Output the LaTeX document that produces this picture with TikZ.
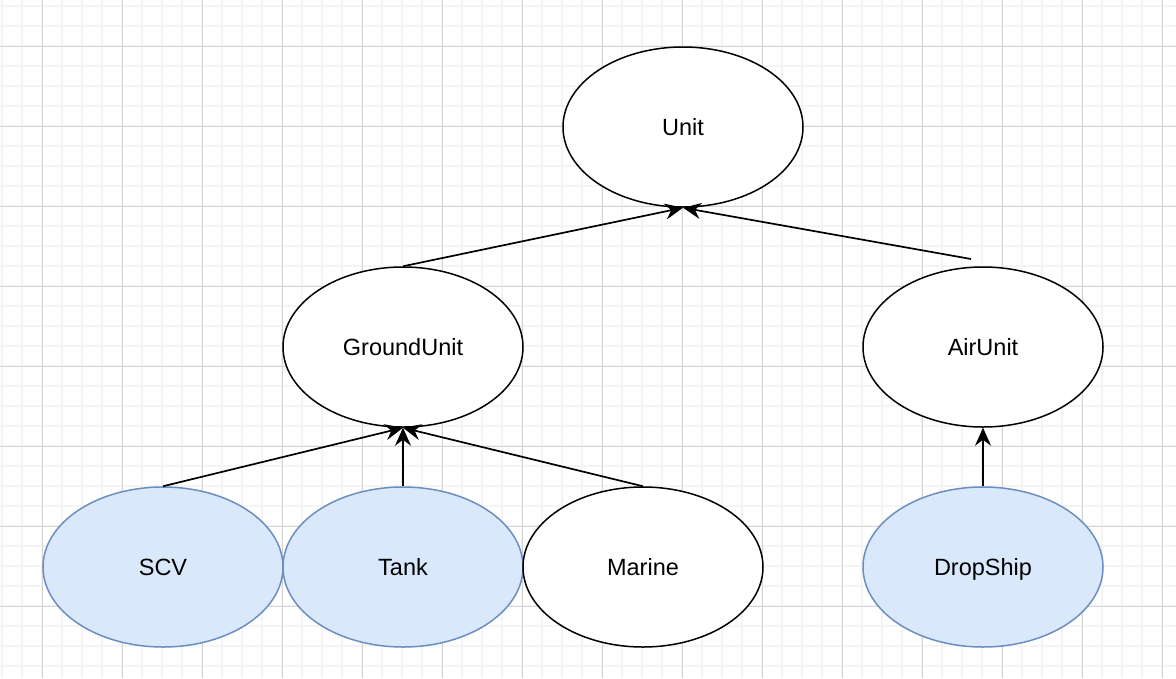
\documentclass[tikz,border=0pt]{standalone}
\usepackage{fontspec}
\setmainfont{Liberation Sans}
\usetikzlibrary{shapes.geometric,arrows.meta}

\definecolor{gridminor}{HTML}{F4F4F4}
\definecolor{gridmajor}{HTML}{D4D4D4}
\definecolor{leaffill}{HTML}{DAE8FC}
\definecolor{leafdraw}{HTML}{6C8EBF}

\tikzset{
    unitnode/.style={ellipse, draw=black, line width=1.5pt, fill=white,
        minimum width=240pt, minimum height=160pt, inner sep=0pt,
        text height=17pt, text depth=0pt,
        font=\fontsize{23.5}{28}\selectfont},
    leafnode/.style={unitnode, draw=leafdraw, fill=leaffill},
    inherit/.style={line width=1.7pt, -{Stealth[length=18pt, width=16pt, inset=6pt]}}
}

\begin{document}
\begin{tikzpicture}[x=1pt, y=-1pt]
    \useasboundingbox (0,0) rectangle (1176,678);
    \fill[white] (0,0) rectangle (1176,678);

    % Grid
    \foreach \gx in {2,22,...,1176}
        \draw[gridminor, line width=1.4pt] (\gx,0) -- (\gx,678);
    \foreach \gy in {6,26,...,678}
        \draw[gridminor, line width=1.4pt] (0,\gy) -- (1176,\gy);
    \foreach \gx in {42,122,...,1176}
        \draw[gridmajor, line width=0.9pt] (\gx,0) -- (\gx,678);
    \foreach \gy in {46,126,...,678}
        \draw[gridmajor, line width=0.9pt] (0,\gy) -- (1176,\gy);

    % Class nodes
    \node[unitnode] (unit) at (683,127) {Unit};
    \node[unitnode] (ground) at (403,347) {GroundUnit};
    \node[unitnode] (air) at (983,347) {AirUnit};
    \node[leafnode] (scv) at (163,567) {SCV};
    \node[leafnode] (tank) at (403,567) {Tank};
    \node[unitnode] (marine) at (643,567) {Marine};
    \node[leafnode] (dropship) at (983,567) {DropShip};
    \coordinate (airtop) at (971,259);

    % Inheritance arrows
    \draw[inherit] (ground.north) -- (unit.south);
    \draw[inherit] (airtop) -- (unit.south);
    \draw[inherit] (scv.north) -- (ground.south);
    \draw[inherit] (tank.north) -- (ground.south);
    \draw[inherit] (marine.north) -- (ground.south);
    \draw[inherit] (dropship.north) -- (air.south);
\end{tikzpicture}
\end{document}
